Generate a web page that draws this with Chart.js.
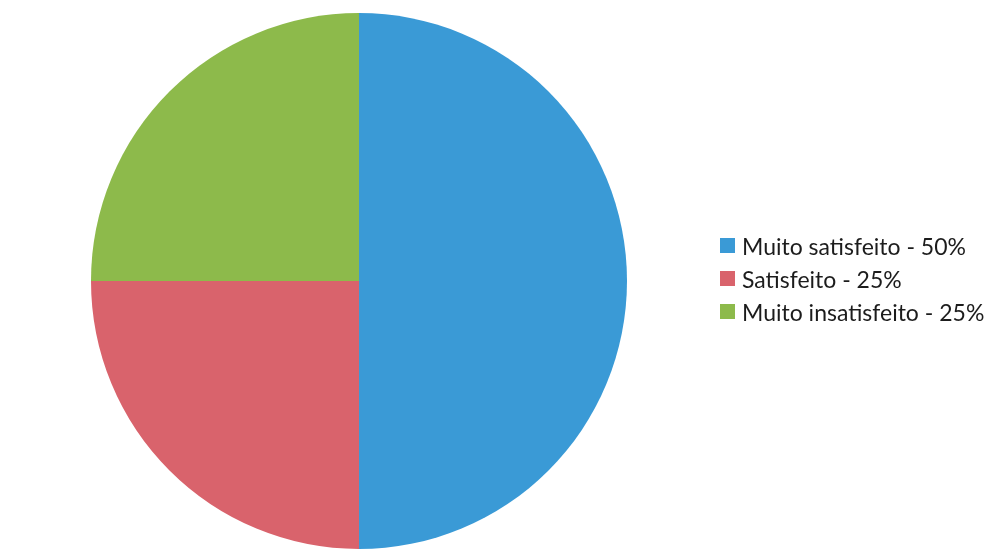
<!DOCTYPE html>
<html>
<head>
<meta charset="utf-8">
<script src="https://cdn.jsdelivr.net/npm/chart.js@4/dist/chart.umd.min.js"></script>
<style>
  html, body { margin: 0; padding: 0; background: #ffffff; }
  #wrap { position: relative; width: 1002px; height: 557px; }
  #legend { position: absolute; left: 720px; top: 229px; font-family: Lato, "Open Sans", sans-serif; font-size: 23px; color: #1c1c1c; }
  .row { display: flex; align-items: center; height: 33px; }
  .sw { width: 15px; height: 15px; margin-right: 7px; }
</style>
</head>
<body>
<div id="wrap">
  <canvas id="c" width="1002" height="557"></canvas>
  <div id="legend"></div>
</div>
<script>
const categories = ["Muito satisfeito", "Satisfeito", "Muito insatisfeito"];
const values = [50, 25, 25];
const colors = ["#3a9ad6", "#d9636c", "#8dba4b"];

const legend = document.getElementById('legend');
categories.forEach((c, i) => {
  const row = document.createElement('div');
  row.className = 'row';
  const sw = document.createElement('div');
  sw.className = 'sw';
  sw.style.background = colors[i];
  const t = document.createElement('span');
  t.textContent = c + ' - ' + values[i] + '%';
  row.appendChild(sw); row.appendChild(t);
  legend.appendChild(row);
});

new Chart(document.getElementById('c'), {
  type: 'pie',
  data: {
    labels: categories,
    datasets: [{ data: values, backgroundColor: colors, borderWidth: 0 }]
  },
  options: {
    responsive: false,
    animation: false,
    layout: { padding: { left: 91, right: 375, top: 13, bottom: 8 } },
    plugins: { legend: { display: false }, tooltip: { enabled: false } }
  }
});
</script>
</body>
</html>
